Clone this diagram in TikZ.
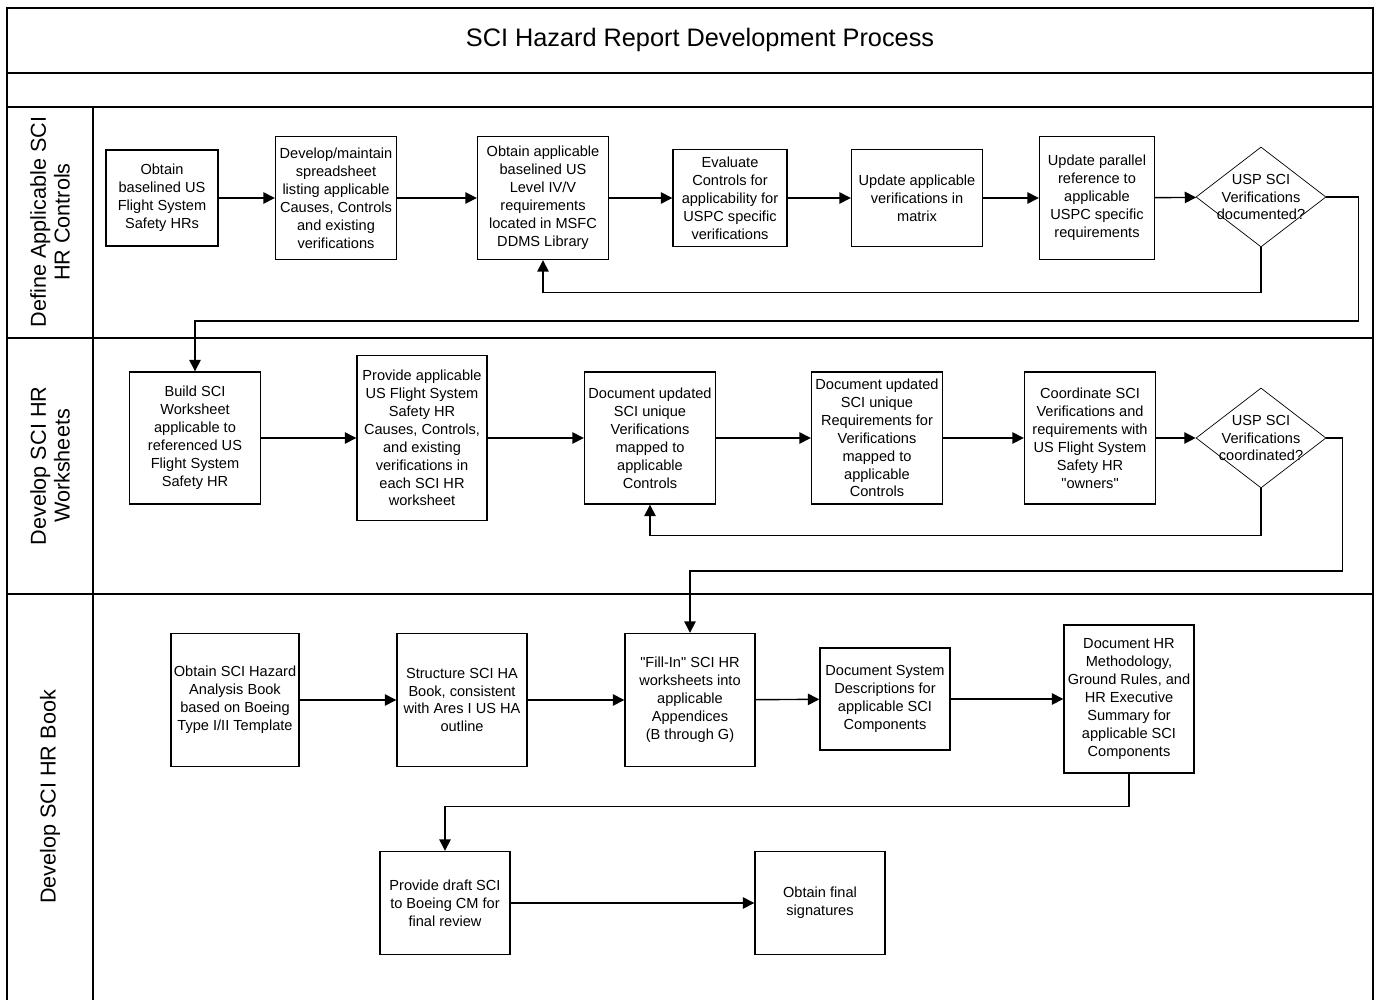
\documentclass[tikz,border=0pt]{standalone}
\usepackage{fontspec}
\setmainfont{Liberation Sans}[Ligatures=TeXOff]
\usetikzlibrary{shapes.geometric,arrows.meta,positioning}

\newcommand{\boxfont}{\fontsize{8.3}{10.2}\selectfont}
\newcommand{\lanefont}{\fontsize{12.3}{13.6}\selectfont}

\begin{document}
\begin{tikzpicture}[
    x=0.02cm, y=-0.02cm,
    proc/.style={draw, thick, fill=white, align=center, font=\boxfont, inner sep=1pt},
    wh/.style 2 args={minimum width=#1*0.02cm, minimum height=#2*0.02cm},
    decide/.style={draw, diamond, aspect=1.3, inner sep=-3pt, fill=white, align=center, font=\boxfont, minimum width=2.6cm, minimum height=2cm},
    flow/.style={-{Triangle[length=6.5pt,width=6.5pt]}, thick},
    frame/.style={line width=1.1pt},
    lane/.style={rotate=90, align=center, font=\lanefont}
]
\useasboundingbox (0,0) rectangle (1376,1000);

% swimlane frame
\draw[frame] (7,1000) -- (7,8) -- (1373,8) -- (1373,1000);
\draw[frame] (7,73) -- (1373,73);
\draw[frame] (7,107) -- (1373,107);
\draw[frame] (7,338) -- (1373,338);
\draw[frame] (7,594) -- (1373,594);
\draw[frame] (93,107) -- (93,1000);

\node[font=\fontsize{14.4}{16}\selectfont] (title) at (700,40) {SCI Hazard Report Development Process};

\node[lane] (lane1) at (50,222) {Define Applicable SCI\\HR Controls};
\node[lane] (lane2) at (50,466) {Develop SCI HR\\Worksheets};
\node[lane] (lane3) at (50,797) {Develop SCI HR Book};

% lane 1
\node[proc, wh={112}{96}] (obtain) at (162,198) {Obtain\\baselined US\\Flight System\\Safety HRs};
\node[proc, wh={121}{123}] (sheet) at (336,198) {Develop/maintain\\spreadsheet\\listing applicable\\Causes, Controls\\and existing\\verifications};
\node[proc, wh={131}{123}] (reqs) at (543,198) {Obtain applicable\\baselined US\\Level IV/V\\requirements\\located in MSFC\\DDMS Library};
\node[proc, wh={114}{97}] (evalc) at (730,198) {Evaluate\\Controls for\\applicability for\\USPC specific\\verifications};
\node[proc, wh={131}{97}] (updv) at (917,198) {Update applicable\\verifications in\\matrix};
\node[proc, wh={115}{123}] (updr) at (1097,198) {Update parallel\\reference to\\applicable\\USPC specific\\requirements};
\node[decide] (docq) at (1261,197) {USP SCI\\Verifications\\documented?};

\draw[flow] (obtain) -- (sheet);
\draw[flow] (sheet) -- (reqs);
\draw[flow] (reqs) -- (evalc);
\draw[flow] (evalc) -- (updv);
\draw[flow] (updv) -- (updr);
\draw[flow] (updr) -- (docq);
\draw[flow] (docq.south) -- ++(0,45) -| (reqs.south);

% lane 2
\node[proc, wh={131}{132}] (build) at (195,438) {Build SCI\\Worksheet\\applicable to\\referenced US\\Flight System\\Safety HR};
\node[proc, wh={130}{165}] (provide) at (422,438) {Provide applicable\\US Flight System\\Safety HR\\Causes, Controls,\\and existing\\verifications in\\each SCI HR\\worksheet};
\node[proc, wh={131}{132}] (docver) at (650,438) {Document updated\\SCI unique\\Verifications\\mapped to\\applicable\\Controls};
\node[proc, wh={131}{132}] (docreq) at (877,438) {Document updated\\SCI unique\\Requirements for\\Verifications\\mapped to\\applicable\\Controls};
\node[proc, wh={131}{132}] (coord) at (1090,438) {Coordinate SCI\\Verifications and\\requirements with\\US Flight System\\Safety HR\\"owners"};
\node[decide] (coordq) at (1261,438) {USP SCI\\Verifications\\coordinated?};

\draw[flow] (docq.east) -| ++(32,124) -| (build.north);
\draw[flow] (build) -- (provide);
\draw[flow] (provide) -- (docver);
\draw[flow] (docver) -- (docreq);
\draw[flow] (docreq) -- (coord);
\draw[flow] (coord) -- (coordq);
\draw[flow] (coordq.south) -- ++(0,47) -| (docver.south);

% lane 3
\node[proc, wh={128}{133}] (book) at (235,700) {Obtain SCI Hazard\\Analysis Book\\based on Boeing\\Type I/II Template};
\node[proc, wh={130}{133}] (struct) at (462,700) {Structure SCI HA\\Book, consistent\\with Ares I US HA\\outline};
\node[proc, wh={130}{133}] (fillin) at (690,700) {"Fill-In" SCI HR\\worksheets into\\applicable\\Appendices\\(B through G)};
\node[proc, wh={130}{102}] (sysdesc) at (885,699) {Document System\\Descriptions for\\applicable SCI\\Components};
\node[proc, wh={130}{148}] (method) at (1129,699) {Document HR\\Methodology,\\Ground Rules, and\\HR Executive\\Summary for\\applicable SCI\\Components};
\node[proc, wh={130}{103}] (draft) at (445,903) {Provide draft SCI\\to Boeing CM for\\final review};
\node[proc, wh={130}{103}] (sign) at (820,903) {Obtain final\\signatures};

\draw[flow] (coordq.east) -| ++(16,133) -| (fillin.north);
\draw[flow] (book) -- (struct);
\draw[flow] (struct) -- (fillin);
\draw[flow] (fillin) -- (sysdesc);
\draw[flow] (sysdesc) -- (method);
\draw[flow] (method.south) -- ++(0,33) -| (draft.north);
\draw[flow] (draft) -- (sign);

\end{tikzpicture}
\end{document}
